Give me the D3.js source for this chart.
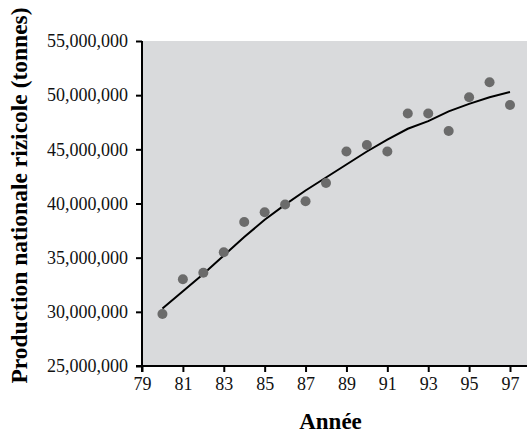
<!DOCTYPE html>
<html>
<head>
<meta charset="utf-8">
<script src="https://cdn.jsdelivr.net/npm/d3@7"></script>
<style>
    body { margin: 0; background: #fff; }
    svg { display: block; }
    text { font-family: "Liberation Serif", "Times New Roman", serif; }
</style>
</head>
<body>
<svg width="527" height="433"></svg>
<script>
// data
const years = [80, 81, 82, 83, 84, 85, 86, 87, 88, 89, 90, 91, 92, 93, 94, 95, 96, 97];
const production = [29.8, 33.0, 33.6, 35.5, 38.3, 39.2, 39.9, 40.2, 41.9, 44.8, 45.4, 44.8,
                    48.3, 48.3, 46.7, 49.8, 51.2, 49.1].map(v => v * 1e6);
const trend = [30.3, 31.9, 33.5, 35.2, 36.9, 38.5, 39.9, 41.2, 42.4, 43.6, 44.8, 45.9,
               46.9, 47.6, 48.5, 49.2, 49.8, 50.3].map(v => v * 1e6);
const xTicks = [79, 81, 83, 85, 87, 89, 91, 93, 95, 97];
const yTicks = [25e6, 30e6, 35e6, 40e6, 45e6, 50e6, 55e6];

const svg = d3.select("svg");
const plotL = 142, plotT = 41, plotR = 527, plotB = 366;

const x = d3.scaleLinear().domain([79, 97]).range([plotL, 510]);
const y = d3.scaleLinear().domain([25e6, 55e6]).range([plotB, plotT]);

// grey plotting area
svg.append("rect")
    .attr("x", plotL).attr("y", plotT)
    .attr("width", plotR - plotL).attr("height", plotB - plotT)
    .attr("fill", "#d9dadc");

const fmt = d3.format(",");

const yAxis = svg.append("g")
    .attr("transform", `translate(${plotL},0)`)
    .call(d3.axisLeft(y).tickValues(yTicks).tickFormat(fmt).tickSize(6).tickPadding(8));
yAxis.select(".domain").attr("d", `M0,${plotT}V${plotB + 6}`).attr("stroke-width", 2);

const xAxis = svg.append("g")
    .attr("transform", `translate(0,${plotB})`)
    .call(d3.axisBottom(x).tickValues(xTicks).tickSize(6).tickPadding(5));
xAxis.select(".domain").attr("d", `M${plotL - 6},0H${plotR}`).attr("stroke-width", 2);

svg.selectAll(".tick line").attr("stroke-width", 2);
svg.selectAll(".tick text").attr("font-size", 18).attr("fill", "#111")
    .style("font-family", '"Liberation Serif", serif');

// fitted trend
svg.append("path")
    .datum(years.map((d, i) => [d, trend[i]]))
    .attr("fill", "none")
    .attr("stroke", "#000")
    .attr("stroke-width", 2)
    .attr("d", d3.line().x(d => x(d[0])).y(d => y(d[1])));

svg.selectAll("circle")
    .data(years)
    .enter()
    .append("circle")
        .attr("cx", d => x(d))
        .attr("cy", (d, i) => y(production[i]))
        .attr("r", 5)
        .attr("fill", "#6b6b6b");

svg.append("text")
    .attr("x", (plotL + plotR) / 2 - 4)
    .attr("y", 429)
    .attr("text-anchor", "middle")
    .attr("font-size", 23)
    .attr("font-weight", "bold")
    .text("Année");

svg.append("text")
    .attr("transform", `translate(27,${(3 + 388) / 2}) rotate(-90)`)
    .attr("text-anchor", "middle")
    .attr("font-size", 23.5)
    .attr("font-weight", "bold")
    .text("Production nationale rizicole (tonnes)");
</script>
</body>
</html>
